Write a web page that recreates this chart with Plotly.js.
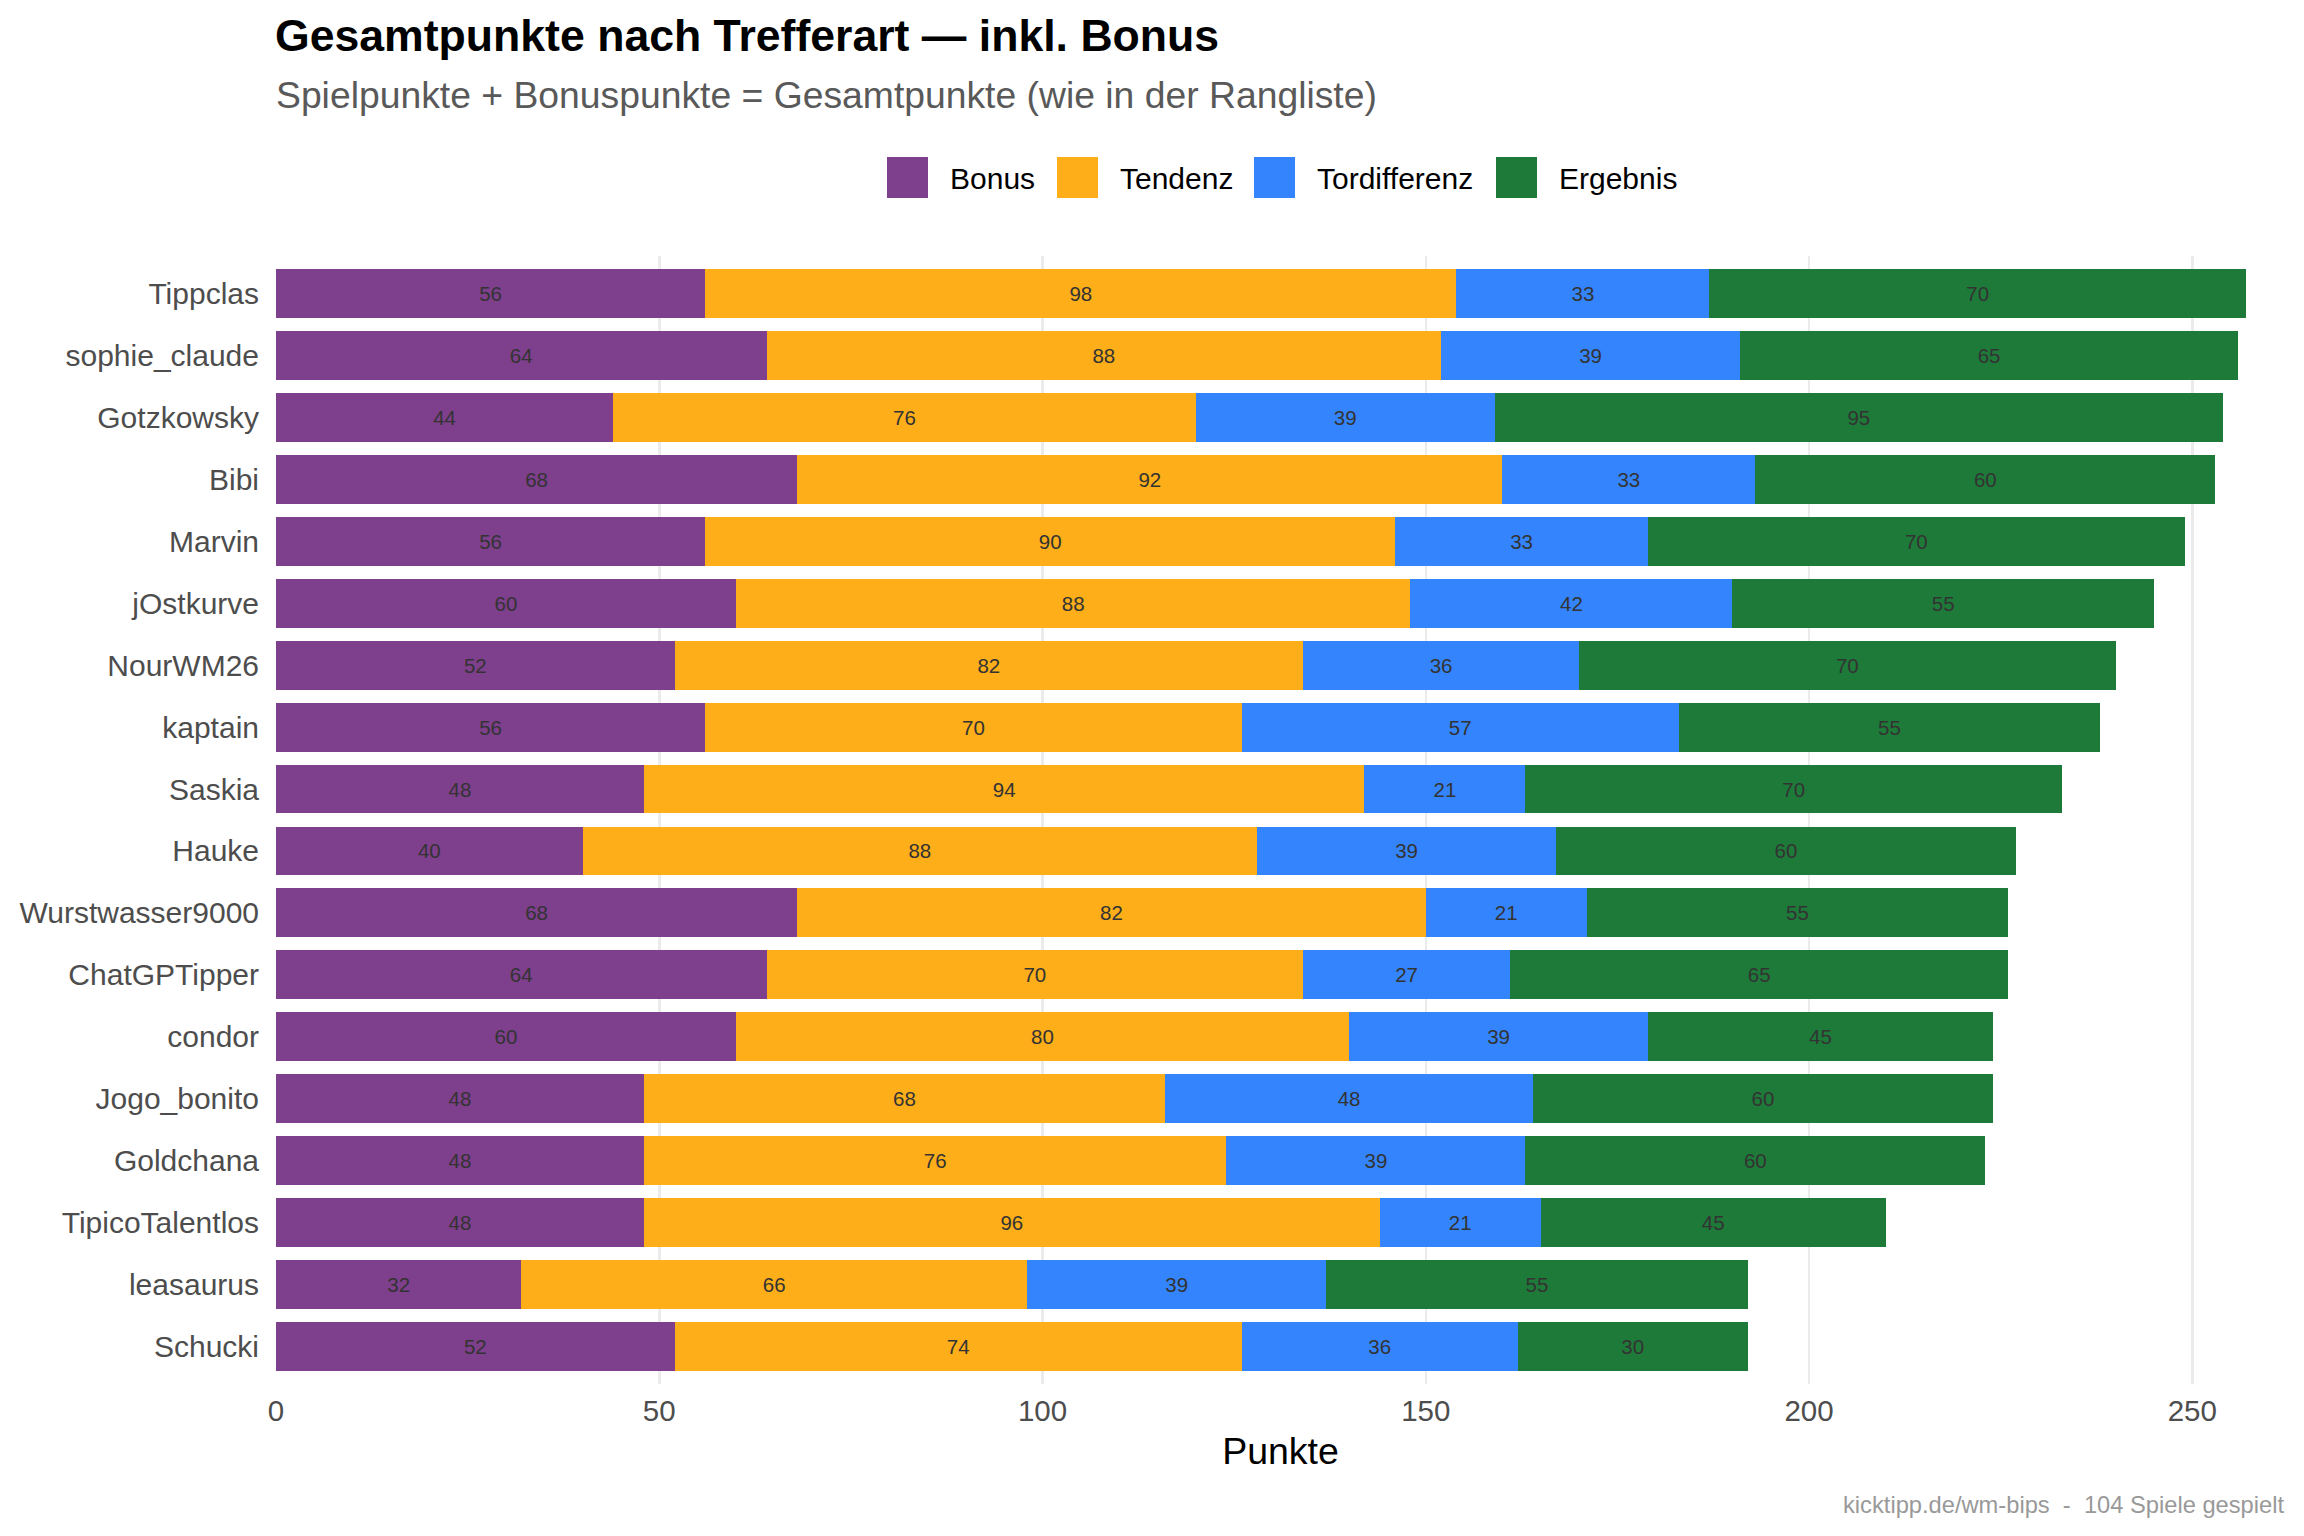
<!DOCTYPE html>
<html>
<head>
<meta charset="utf-8">
<title>Gesamtpunkte nach Trefferart</title>
<script src="https://cdn.plot.ly/plotly-3.0.1.min.js"></script>
<style>
  html, body { margin: 0; padding: 0; background: #ffffff; }
  #chart { width: 2304px; height: 1536px; }
</style>
</head>
<body>
<div id="chart"></div>
<script>
// Players in ranking order (top to bottom)
const PLAYERS = [
  "Tippclas", "sophie_claude", "Gotzkowsky", "Bibi", "Marvin", "jOstkurve",
  "NourWM26", "kaptain", "Saskia", "Hauke", "Wurstwasser9000", "ChatGPTipper",
  "condor", "Jogo_bonito", "Goldchana", "TipicoTalentlos", "leasaurus", "Schucki",
];

// Points per category, same order as PLAYERS
const BONUS = [56, 64, 44, 68, 56, 60, 52, 56, 48, 40, 68, 64, 60, 48, 48, 48, 32, 52];
const TENDENZ = [98, 88, 76, 92, 90, 88, 82, 70, 94, 88, 82, 70, 80, 68, 76, 96, 66, 74];
const TORDIFFERENZ = [33, 39, 39, 33, 33, 42, 36, 57, 21, 39, 21, 27, 39, 48, 39, 21, 39, 36];
const ERGEBNIS = [70, 65, 95, 60, 70, 55, 70, 55, 70, 60, 55, 65, 45, 60, 60, 45, 55, 30];

const SERIES_NAMES = ["Bonus", "Tendenz", "Tordifferenz", "Ergebnis"];
const SERIES_VALUES = [BONUS, TENDENZ, TORDIFFERENZ, ERGEBNIS];
const X_TICKS = [0, 50, 100, 150, 200, 250];

const COLORS = ["#7e3f8c", "#fdae19", "#3485fd", "#1e7a39"];
const FONT = "Liberation Sans, Arial, sans-serif";

// Page geometry (pixels)
const W = 2304;
const H = 1536;
const M = { l: 276, r: 19, t: 256, b: 152 };
const PW = W - M.l - M.r;
const PH = H - M.t - M.b;

// pixel -> paper coordinates, for the hand-drawn legend and captions
function px2x(px) {
  return (px - M.l) / PW;
}
function px2y(py) {
  return (H - M.b - py) / PH;
}

const traces = SERIES_NAMES.map(function (name, i) {
  return {
    type: "bar",
    orientation: "h",
    name: name,
    y: PLAYERS,
    x: SERIES_VALUES[i],
    text: SERIES_VALUES[i].map(String),
    textposition: "inside",
    insidetextanchor: "middle",
    textangle: 0,
    constraintext: "none",
    textfont: { family: FONT, size: 20.5, color: "#333333" },
    marker: { color: COLORS[i], line: { width: 0 } },
    hoverinfo: "skip",
  };
});

// ggplot-style legend: big square keys above the panel
const LEGEND_KEY_X = [887, 1057, 1254, 1496];
const KEY = 41;
const KEY_TOP = 157;
const shapes = [];
const annotations = [];
SERIES_NAMES.forEach(function (name, i) {
  const x0 = LEGEND_KEY_X[i];
  shapes.push({
    type: "rect",
    xref: "paper",
    yref: "paper",
    x0: px2x(x0),
    x1: px2x(x0 + KEY),
    y0: px2y(KEY_TOP + KEY),
    y1: px2y(KEY_TOP),
    fillcolor: COLORS[i],
    line: { width: 0 },
  });
  annotations.push({
    xref: "paper",
    yref: "paper",
    x: px2x(x0 + KEY + 20),
    y: px2y(178),
    xanchor: "left",
    yanchor: "middle",
    showarrow: false,
    text: name,
    font: { family: FONT, size: 30, color: "#000000" },
  });
});

// Subtitle
annotations.push({
  xref: "paper",
  yref: "paper",
  x: px2x(274),
  y: px2y(95),
  xanchor: "left",
  yanchor: "middle",
  showarrow: false,
  text: "Spielpunkte + Bonuspunkte = Gesamtpunkte (wie in der Rangliste)",
  font: { family: FONT, size: 37.3, color: "#595959" },
});

// Caption
annotations.push({
  xref: "paper",
  yref: "paper",
  x: px2x(2286),
  y: px2y(1505),
  xanchor: "right",
  yanchor: "middle",
  showarrow: false,
  text: "kicktipp.de/wm-bips  -  104 Spiele gespielt",
  font: { family: FONT, size: 23.7, color: "#999999" },
});

const layout = {
  width: W,
  height: H,
  margin: M,
  paper_bgcolor: "#ffffff",
  plot_bgcolor: "#ffffff",
  font: { family: FONT, color: "#000000" },
  barmode: "stack",
  bargap: 0.21,
  showlegend: false,
  title: {
    text: "Gesamtpunkte nach Trefferart — inkl. Bonus",
    font: { family: FONT, size: 44.6, weight: 700, color: "#000000" },
    xref: "container",
    yref: "container",
    x: 275 / W,
    xanchor: "left",
    y: 1 - 20 / H,
    yanchor: "top",
    pad: { t: 0, b: 0, l: 0, r: 0 },
  },
  xaxis: {
    range: [0, 262.1],
    tickvals: X_TICKS,
    ticktext: X_TICKS.map(String),
    ticks: "",
    ticklabelstandoff: 6,
    showgrid: true,
    gridcolor: "#ebebeb",
    gridwidth: 2.5,
    zeroline: false,
    showline: false,
    tickfont: { family: FONT, size: 29.5, color: "#4d4d4d" },
    title: {
      text: "Punkte",
      font: { family: FONT, size: 37.5, color: "#000000" },
      standoff: 12,
    },
    fixedrange: true,
  },
  yaxis: {
    type: "category",
    categoryorder: "array",
    categoryarray: PLAYERS,
    range: [PLAYERS.length - 0.4, -0.6],
    showgrid: false,
    zeroline: false,
    showline: false,
    ticks: "",
    ticklabelstandoff: 16,
    tickfont: { family: FONT, size: 30, color: "#4d4d4d" },
    fixedrange: true,
  },
  shapes: shapes,
  annotations: annotations,
};

Plotly.newPlot("chart", traces, layout, { displayModeBar: false, staticPlot: true });
</script>
</body>
</html>
